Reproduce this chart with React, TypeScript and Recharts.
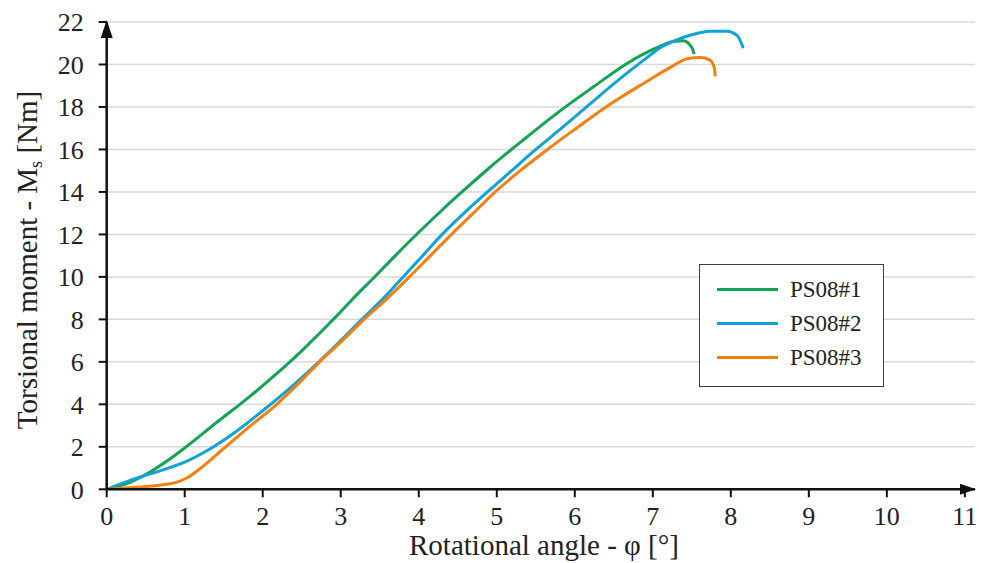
import React from 'react';
import {
  LineChart, Line, XAxis, YAxis, CartesianGrid, Legend, ReferenceDot,
} from 'recharts';

// PS08#1 (green)
const ps1Angle = [0, 0.3, 0.55, 0.8, 1.0, 1.4, 1.8, 2.13, 2.48, 2.9, 3.15, 3.42, 3.7, 4.0, 4.3, 4.6, 4.91, 5.34, 5.77, 6.24, 6.67, 7.01, 7.26, 7.39, 7.5, 7.53];
const ps1Moment = [0, 0.33, 0.8, 1.4, 1.95, 3.12, 4.27, 5.29, 6.45, 7.98, 8.95, 9.95, 11.0, 12.1, 13.15, 14.15, 15.15, 16.45, 17.7, 18.95, 20.05, 20.72, 21.08, 21.12, 20.8, 20.49];

// PS08#2 (blue)
const ps2Angle = [0, 0.25, 0.5, 0.75, 1.0, 1.3, 1.65, 2.0, 2.36, 2.72, 3.0, 3.27, 3.55, 3.8, 4.05, 4.3, 4.58, 4.88, 5.19, 5.5, 5.83, 6.15, 6.62, 6.9, 7.1, 7.3, 7.5, 7.73, 7.95, 8.08, 8.16];
const ps2Moment = [0, 0.35, 0.66, 0.95, 1.28, 1.85, 2.7, 3.7, 4.8, 6.0, 7.0, 8.0, 9.0, 10.0, 11.0, 12.0, 13.0, 14.0, 15.0, 16.0, 17.0, 18.0, 19.45, 20.25, 20.8, 21.15, 21.4, 21.56, 21.57, 21.37, 20.77];

// PS08#3 (orange)
const ps3Angle = [0, 0.34, 0.7, 0.9, 1.02, 1.2, 1.5, 1.83, 2.18, 2.45, 2.73, 3.02, 3.3, 3.6, 3.88, 4.15, 4.42, 4.7, 4.98, 5.3, 5.65, 6.02, 6.4, 6.9, 7.22, 7.44, 7.61, 7.73, 7.79, 7.8];
const ps3Moment = [0, 0.08, 0.2, 0.34, 0.52, 0.98, 1.92, 2.95, 4.0, 4.95, 6.0, 7.0, 8.0, 9.0, 10.0, 11.0, 12.0, 13.0, 14.0, 15.0, 16.0, 17.0, 18.0, 19.15, 19.85, 20.27, 20.33, 20.22, 19.83, 19.44];

const xTicks = [0, 1, 2, 3, 4, 5, 6, 7, 8, 9, 10, 11];
const yTicks = [0, 2, 4, 6, 8, 10, 12, 14, 16, 18, 20, 22];

const series = [
  { name: 'PS08#1', color: '#10a454', angle: ps1Angle, moment: ps1Moment },
  { name: 'PS08#2', color: '#12a2d6', angle: ps2Angle, moment: ps2Moment },
  { name: 'PS08#3', color: '#f5800f', angle: ps3Angle, moment: ps3Moment },
];

const zip = (xs: number[], ys: number[]) => xs.map((x, i) => ({ x, y: ys[i] }));

const FONT = '"Liberation Serif", "Times New Roman", serif';

const XArrow = (props: any) => {
  const { cx, cy } = props;
  return <polygon points={`${cx + 1},${cy} ${cx - 15},${cy - 5.5} ${cx - 15},${cy + 5.5}`} fill="#111" />;
};

const YArrow = (props: any) => {
  const { cx, cy } = props;
  return <polygon points={`${cx},${cy - 2} ${cx - 6},${cy + 16} ${cx + 6},${cy + 16}`} fill="#111" />;
};

const YTitle = () => (
  <text x={37} y={260} transform="rotate(-90, 37, 260)" textAnchor="middle"
    fontFamily={FONT} fontSize={29} fill="#222">
    Torsional moment - M<tspan fontSize={18} dy={5}>s</tspan><tspan dy={-5}> [Nm]</tspan>
  </text>
);

const XTitle = () => (
  <text x={544} y={555} textAnchor="middle" fontFamily={FONT} fontSize={29} fill="#222">
    Rotational angle - φ [°]
  </text>
);

const LegendBox = () => (
  <div style={{
    position: 'relative', width: 185, height: 123, boxSizing: 'border-box',
    border: '1.5px solid #404040', background: '#fff', fontFamily: FONT,
  }}>
    {series.map((s, i) => (
      <div key={s.name}>
        <div style={{
          position: 'absolute', left: 17, top: 23 + i * 34, width: 61, height: 3, background: s.color,
        }} />
        <div style={{
          position: 'absolute', left: 90, top: 10 + i * 34, fontSize: 23, lineHeight: '30px', color: '#222',
        }}>{s.name}</div>
      </div>
    ))}
  </div>
);

export default function App() {
  return (
    <div style={{ position: 'absolute', left: 0, top: 0, width: 985, height: 563, background: '#fff' }}>
      <LineChart width={985} height={563} margin={{ top: 22, right: 10, bottom: 0, left: 0 }}>
        <CartesianGrid vertical={false} stroke="#d9d9d9" strokeWidth={1.5} />
        <XAxis type="number" dataKey="x" domain={[0, 11.13]} ticks={xTicks} allowDataOverflow
          height={73.7} tickSize={8} tickMargin={9}
          axisLine={{ stroke: '#111', strokeWidth: 2.5 }} tickLine={{ stroke: '#111', strokeWidth: 2 }}
          tick={{ fontFamily: FONT, fontSize: 26, fill: '#222' }} label={<XTitle />} />
        <YAxis type="number" dataKey="y" domain={[0, 22]} ticks={yTicks} allowDataOverflow
          width={106.7} tickSize={8} tickMargin={15}
          axisLine={{ stroke: '#111', strokeWidth: 2.5 }} tickLine={{ stroke: '#111', strokeWidth: 2 }}
          tick={{ fontFamily: FONT, fontSize: 26, fill: '#222' }} label={<YTitle />} />
        {series.map(s => (
          <Line key={s.name} data={zip(s.angle, s.moment)} dataKey="y" name={s.name} type="monotone"
            stroke={s.color} strokeWidth={3} dot={false} isAnimationActive={false} />
        ))}
        <ReferenceDot x={11.13} y={0} ifOverflow="visible" shape={<XArrow />} />
        <ReferenceDot x={0} y={22} ifOverflow="visible" shape={<YArrow />} />
        <Legend layout="vertical" align="center" verticalAlign="middle" content={<LegendBox />}
          wrapperStyle={{ position: 'absolute', left: 699, top: 264, width: 185, height: 123 }} />
      </LineChart>
    </div>
  );
}
